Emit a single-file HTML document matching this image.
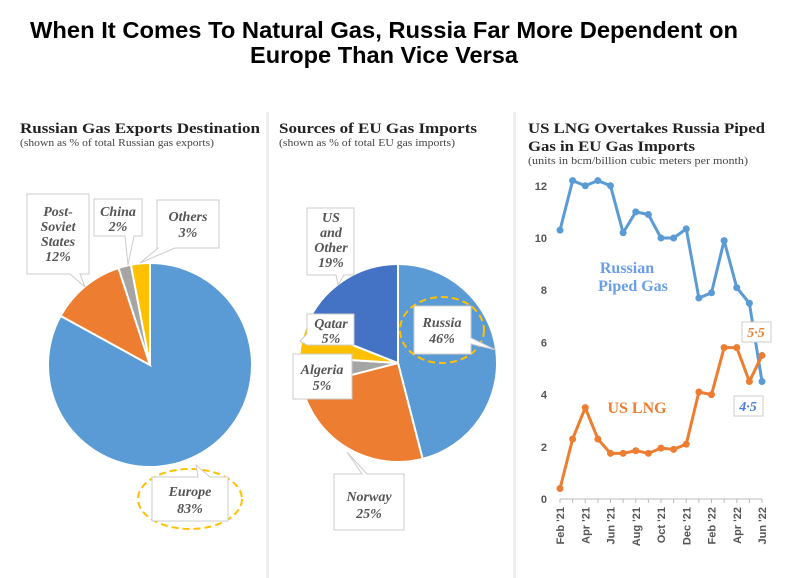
<!DOCTYPE html>
<html><head><meta charset="utf-8">
<style>
body{margin:0;background:#fff;width:804px;height:578px;overflow:hidden;font-family:"Liberation Serif",serif;}
svg{display:block}
</style></head>
<body>
<svg id="root" width="804" height="578" xmlns="http://www.w3.org/2000/svg">
<text x="384" y="38" text-anchor="middle" font-family="Liberation Sans" font-weight="bold" font-size="23" textLength="708" lengthAdjust="spacingAndGlyphs" fill="#000">When It Comes To Natural Gas, Russia Far More Dependent on</text>
<text x="384" y="63" text-anchor="middle" font-family="Liberation Sans" font-weight="bold" font-size="23" textLength="268" lengthAdjust="spacingAndGlyphs" fill="#000">Europe Than Vice Versa</text>
<rect x="266" y="112" width="3" height="466" fill="#eee"/>
<rect x="513" y="112" width="3" height="466" fill="#eee"/>

<text x="20" y="133" font-weight="bold" font-size="15" textLength="240" lengthAdjust="spacingAndGlyphs" fill="#222">Russian Gas Exports Destination</text>
<text x="20" y="146" font-size="10" textLength="194" lengthAdjust="spacingAndGlyphs" fill="#444">(shown as % of total Russian gas exports)</text>
<text x="279" y="133" font-weight="bold" font-size="15" textLength="198" lengthAdjust="spacingAndGlyphs" fill="#222">Sources of EU Gas Imports</text>
<text x="279" y="146" font-size="10" textLength="176" lengthAdjust="spacingAndGlyphs" fill="#444">(shown as % of total EU gas imports)</text>
<text x="528" y="133" font-weight="bold" font-size="15" textLength="237" lengthAdjust="spacingAndGlyphs" fill="#222">US LNG Overtakes Russia Piped</text>
<text x="528" y="151" font-weight="bold" font-size="15" textLength="167" lengthAdjust="spacingAndGlyphs" fill="#222">Gas in EU Gas Imports</text>
<text x="528" y="164" font-size="10" textLength="220" lengthAdjust="spacingAndGlyphs" fill="#444">(units in bcm/billion cubic meters per month)</text>

<g id="pie1"></g>
<g id="pie2"></g>
<g id="line"></g>
</svg>
<script>
const NS="http://www.w3.org/2000/svg";
const pie1Cats=["Europe","Post-Soviet States","China","Others"];
const pie1Vals=[83,12,2,3];
const pie1Cols=["#5b9bd5","#ed7d31","#a5a5a5","#ffc000"];
const pie2Cats=["Russia","Norway","Algeria","Qatar","US and Other"];
const pie2Vals=[46,25,5,5,19];
const pie2Cols=["#5b9bd5","#ed7d31","#a5a5a5","#ffc000","#4472c4"];
const months=["Feb '21","Mar '21","Apr '21","May '21","Jun '21","Jul '21","Aug '21","Sep '21","Oct '21","Nov '21","Dec '21","Jan '22","Feb '22","Mar '22","Apr '22","May '22","Jun '22"];
const russianPiped=[10.3,12.2,12.0,12.2,12.0,10.2,11.0,10.9,10.0,10.0,10.35,7.7,7.9,9.9,8.1,7.5,4.5];
const usLng=[0.4,2.3,3.5,2.3,1.75,1.75,1.85,1.75,1.95,1.9,2.1,4.1,4.0,5.8,5.8,4.5,5.5];
const yTicks=[0,2,4,6,8,10,12];

function el(t,a,p){const e=document.createElementNS(NS,t);for(const k in a)e.setAttribute(k,a[k]);p.appendChild(e);return e;}
function drawPie(g,vals,cols,cx,cy,r,names){
  const tot=vals.reduce((a,b)=>a+b,0);let a0=-Math.PI/2;
  vals.forEach((v,i)=>{const a1=a0+v/tot*2*Math.PI;
    const x0=cx+r*Math.cos(a0),y0=cy+r*Math.sin(a0),x1=cx+r*Math.cos(a1),y1=cy+r*Math.sin(a1);
    const p=el("path",{d:`M${cx},${cy}L${x0},${y0}A${r},${r} 0 ${a1-a0>Math.PI?1:0} 1 ${x1},${y1}Z`,fill:cols[i],stroke:"#fff","stroke-width":2},g);
    
    
    a0=a1;});
}
drawPie(document.getElementById("pie1"),pie1Vals,pie1Cols,150,365,102,pie1Cats);
drawPie(document.getElementById("pie2"),pie2Vals,pie2Cols,398,363,99,pie2Cats);

const lg=document.getElementById("line");
const X0=560,X1=762,Y0=499,PPU=26.1;
const xs=i=>X0+(X1-X0)*i/(months.length-1);
const ys=v=>Y0-v*PPU;
yTicks.forEach(t=>{const tx=el("text",{x:547,y:ys(t)+4,"text-anchor":"end","font-family":"Liberation Sans","font-size":11,"font-weight":"bold",fill:"#555"},lg);tx.textContent=t;
  
  });
el("line",{x1:X0,x2:X1,y1:Y0,y2:Y0,stroke:"#bbb"},lg);
months.forEach((m,i)=>{el("line",{x1:xs(i),x2:xs(i),y1:Y0,y2:Y0+4,stroke:"#bbb"},lg);
  if(i%2===0){const tx=el("text",{transform:`translate(${xs(i)+4},${Y0+8}) rotate(-90)`,"text-anchor":"end","font-family":"Liberation Sans","font-size":11,"font-weight":"bold",fill:"#555"},lg);tx.textContent=m;
  
  }});
function series(vals,col,name){
  const pl=el("polyline",{points:vals.map((v,i)=>xs(i)+","+ys(v)).join(" "),fill:"none",stroke:col,"stroke-width":3,"stroke-linejoin":"round"},lg);
  
  
  vals.forEach((v,i)=>{const c=el("circle",{cx:xs(i),cy:ys(v),r:3.5,fill:col},lg);
    
    });
}
series(russianPiped,"#5b9bd5","russian-piped");
series(usLng,"#ed7d31","us-lng");
</script>
<svg width="804" height="578" style="position:absolute;left:0;top:0" xmlns="http://www.w3.org/2000/svg">
<g font-family="Liberation Serif" font-style="italic" font-weight="bold" font-size="14" fill="#555" text-anchor="middle">
 <g><path d="M27 194H89V274H80L85 287L70 274H27Z" fill="#fff" stroke="#ccc"/><text x="58" y="216">Post-</text><text x="58" y="231">Soviet</text><text x="58" y="246">States</text><text x="58" y="261">12%</text></g>
 <g><path d="M94 199H142V236H134L128 265L125 236H94Z" fill="#fff" stroke="#ccc"/><text x="118" y="216">China</text><text x="118" y="231">2%</text></g>
 <g><path d="M157 200H219V248H175L140 263L158 248H157Z" fill="#fff" stroke="#ccc"/><text x="188" y="221">Others</text><text x="188" y="237">3%</text></g>
 <g><ellipse cx="190" cy="499" rx="52" ry="30" fill="none" stroke="#ffc000" stroke-width="2" stroke-dasharray="7,4"/><path d="M152 477H198L196 465L210 477H228V521H152Z" fill="#fff" stroke="#ccc"/><text x="190" y="496">Europe</text><text x="190" y="513">83%</text></g>
 <g><path d="M307 208H354V275H344L338 285L336 275H307Z" fill="#fff" stroke="#ccc"/><text x="331" y="222">US</text><text x="331" y="237">and</text><text x="331" y="252">Other</text><text x="331" y="267">19%</text></g>
 <g><path d="M307 314H354V345H307L300 341L307 334Z" fill="#fff" stroke="#ccc"/><text x="331" y="328">Qatar</text><text x="331" y="343">5%</text></g>
 <g><path d="M293 354H352V399H293Z" fill="#fff" stroke="#ccc"/><text x="322" y="374">Algeria</text><text x="322" y="390">5%</text></g>
 <g><ellipse cx="442" cy="330" rx="42" ry="33" fill="none" stroke="#ffc000" stroke-width="2" stroke-dasharray="7,4"/><path d="M414 306H471V338L496 350L471 344V354H414Z" fill="#fff" stroke="#ccc"/><text x="442" y="327">Russia</text><text x="442" y="343">46%</text></g>
 <g><path d="M334 474H362L347 452L367 474H404V530H334Z" fill="#fff" stroke="#ccc"/><text x="369" y="501">Norway</text><text x="369" y="518">25%</text></g>
 <text x="627" y="273" font-style="normal" font-size="16" fill="#6a9ee6">Russian</text>
 <text x="633" y="291" font-style="normal" font-size="16" fill="#6a9ee6">Piped Gas</text>
 <text x="637" y="413" font-style="normal" font-size="16" fill="#ed7d31">US LNG</text>
 <g><rect x="742" y="322" width="29" height="20" fill="#fff" stroke="#ccc"/><text x="756" y="337" fill="#ed7d31" font-size="14">5·5</text></g>
 <g><rect x="734" y="396" width="29" height="20" fill="#fff" stroke="#ccc"/><text x="748" y="411" fill="#4a7de0" font-size="14">4·5</text></g>
</g></svg>
</body></html>
